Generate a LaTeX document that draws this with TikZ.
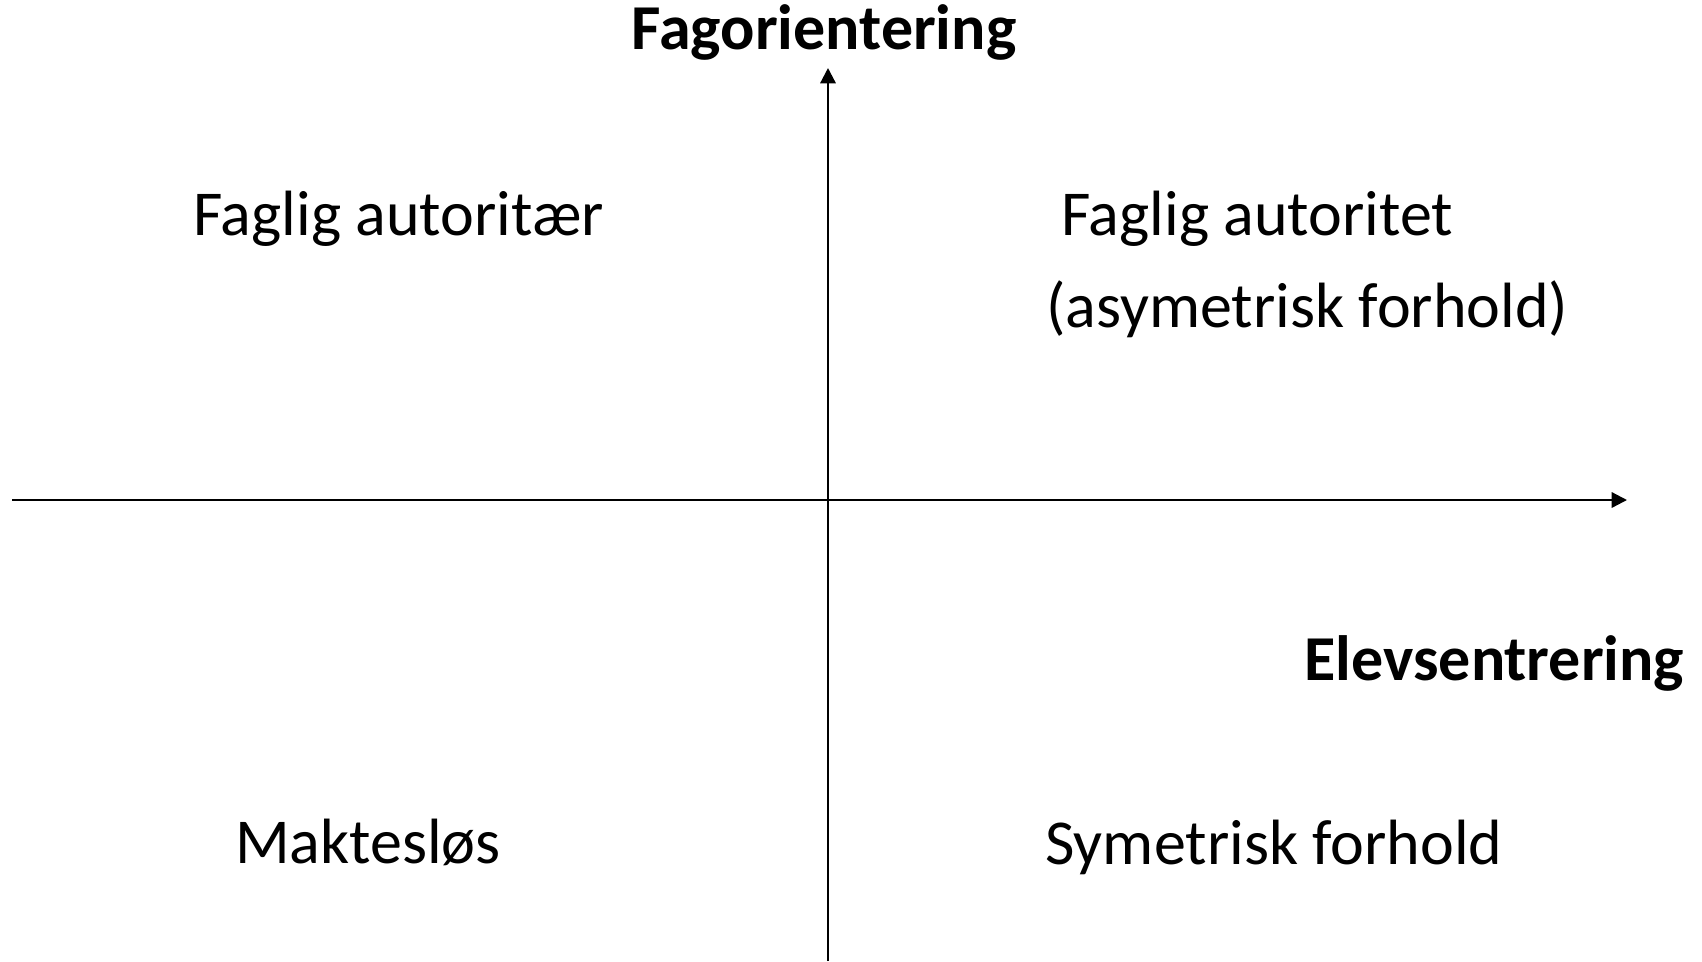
\documentclass[tikz,border=0pt]{standalone}
\usepackage{fontspec}
\setmainfont{Carlito}
\usetikzlibrary{arrows.meta}

\begin{document}
\begin{tikzpicture}[x=0.75pt,y=-0.75pt,
    axis/.style={line width=1.7pt,-{Triangle[length=11.5pt,width=11.5pt]}},
    lbl/.style={anchor=base west,inner sep=0pt,font=\fontsize{48}{58}\selectfont},
    title/.style={lbl,font=\fontsize{48}{58}\selectfont\bfseries}]
  \useasboundingbox (0,0) rectangle (1702,961);

  % axes
  \coordinate (west) at (12,500);
  \coordinate (east) at (1627,500);
  \coordinate (south) at (828,961);
  \coordinate (north) at (828,68);
  \draw[axis] (west) -- (east);
  \draw[axis] (south) -- (north);

  % axis titles
  \node[title,anchor=base] (fag) at (824,49) {Fagorientering};
  \node[title] (elev) at (1304,680) {Elevsentrering};

  % quadrants
  \node[lbl] (autoritaer) at (193,235) {Faglig autoritær};
  \node[lbl] (autoritet) at (1061,235) {Faglig autoritet};
  \node[lbl] (asym) at (1046,327) {(asymetrisk forhold)};
  \node[lbl] (makt) at (235,863) {Maktesløs};
  \node[lbl] (sym) at (1045,864) {Symetrisk forhold};
\end{tikzpicture}
\end{document}
